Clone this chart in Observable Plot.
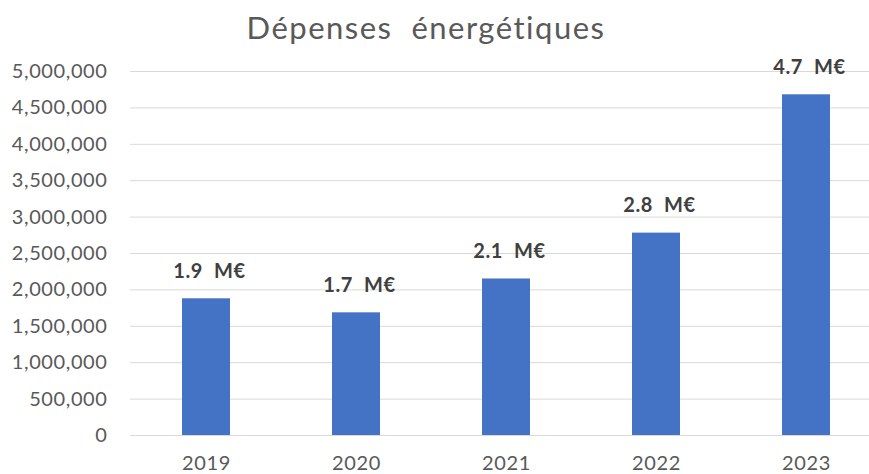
<!DOCTYPE html>
<html>
<head>
<meta charset="utf-8">
<script src="https://cdn.jsdelivr.net/npm/d3@7"></script>
<script src="https://cdn.jsdelivr.net/npm/@observablehq/plot@0.6"></script>
<style>
  html, body { margin: 0; padding: 0; background: #fff; }
  #title {
    width: 852px; height: 50px; text-align: center;
    font-family: Lato, "Open Sans", sans-serif; font-size: 31px; letter-spacing: 1.5px; color: #595959;
    line-height: 50px; white-space: pre; box-sizing: border-box; padding-top: 2px;
  }
  svg { display: block; overflow: hidden; }
</style>
</head>
<body>
<div id="title"></div>
<div id="chart"></div>
<script>
const titleText = "Dépenses  énergétiques";
const years = ["2019", "2020", "2021", "2022", "2023"];
const spending = [1878000, 1685000, 2150000, 2780000, 4680000];
const valueLabels = ["1.9  M€", "1.7  M€", "2.1  M€", "2.8  M€", "4.7  M€"];
const yTicks = [0, 500000, 1000000, 1500000, 2000000, 2500000, 3000000, 3500000, 4000000, 4500000, 5000000];

document.getElementById("title").textContent = titleText;

const data = years.map((year, i) => ({year, value: spending[i], label: valueLabels[i]}));

const chart = Plot.plot({
  width: 869,
  height: 424,
  marginLeft: 130,
  marginRight: 0,
  marginTop: 21,
  marginBottom: 39,
  style: {fontFamily: "Lato, 'Open Sans', sans-serif", fontSize: "20px", color: "#595959", background: "#fff", letterSpacing: "0.6px"},
  x: {domain: years, range: [130.5, 880.5], paddingInner: 0.68, paddingOuter: 0.34, label: null},
  y: {domain: [0, 5000000], label: null},
  marks: [
    Plot.ruleY(yTicks, {stroke: "#d9d9d9", strokeWidth: 1}),
    Plot.barY(data, {x: "year", y: "value", fill: "#4472C4"}),
    Plot.text(data, {x: "year", y: "value", text: "label", dy: -21, dx: 3, lineAnchor: "bottom",
      fill: "#404040", fontWeight: "bold", fontSize: 20}),
    Plot.axisY({ticks: yTicks, tickFormat: d3.format(","), tickSize: 0, tickPadding: 23, label: null, fill: "#595959"}),
    Plot.axisX({tickSize: 0, tickPadding: 20, label: null, fill: "#595959"})
  ]
});
chart.querySelectorAll("text").forEach(t => t.setAttribute("xml:space", "preserve"));
chart.querySelectorAll("text").forEach(t => t.style.whiteSpace = "pre");
document.getElementById("chart").appendChild(chart);
</script>
</body>
</html>
